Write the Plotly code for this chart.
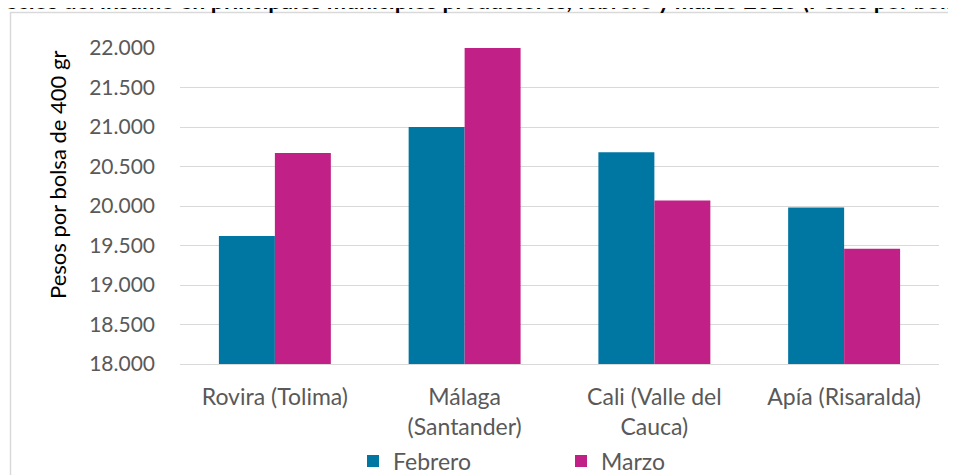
import plotly.graph_objects as go

categories = ["Rovira (Tolima)", "Málaga (Santander)", "Cali (Valle del Cauca)", "Apía (Risaralda)"]
tick_labels = ["Rovira (Tolima)", "Málaga<br>(Santander)", "Cali (Valle del<br>Cauca)", "Apía (Risaralda)"]
febrero = [19620, 21000, 20680, 19980]
marzo = [20670, 22000, 20070, 19460]
y_ticks = [18000, 18500, 19000, 19500, 20000, 20500, 21000, 21500, 22000]

title_text = "Precios del insumo en principales municipios productores, febrero y marzo 2016 (Pesos por bolsa)"
y_title = "Pesos por bolsa de 400 gr"

FONT = "Lato"
GREY = "#595959"

fig = go.Figure()
fig.add_trace(go.Bar(name="Febrero", x=categories, y=febrero, marker_color="#0076A3",
                     marker_line_width=0))
fig.add_trace(go.Bar(name="Marzo", x=categories, y=marzo, marker_color="#C12186",
                     marker_line_width=0))

W, H = 956, 475
OFF = 8  # page offset of the figure (body margin)
# plot area in page pixels
PL, PR, PT, PB = 180, 939, 48, 364
L, R, T, B = PL - OFF, W - (PR - OFF), PT - OFF, H - (PB - OFF)
pw, ph = W - L - R, H - T - B

def px_x(x):
    return (x - OFF - L) / pw

def px_y(y):
    return (H - B - (y - OFF)) / ph

fig.update_layout(
    template="none",
    width=W, height=H,
    margin=dict(l=L, r=R, t=T, b=B, pad=0, autoexpand=False),
    paper_bgcolor="white", plot_bgcolor="white",
    separators=",.",
    font=dict(family=FONT, size=21, color=GREY),
    barmode="group", bargap=0.41, bargroupgap=0,
    showlegend=True,
    legend=dict(orientation="h", x=px_x(353), xanchor="left", y=px_y(461), yanchor="middle",
                entrywidth=163, entrywidthmode="pixels",
                font=dict(family=FONT, size=23, color=GREY), traceorder="normal",
                bgcolor="rgba(0,0,0,0)"),
    xaxis=dict(tickvals=categories, ticktext=tick_labels, showgrid=False, showline=True,
               linecolor="#D9D9D9", linewidth=1, ticks="", ticklabelstandoff=12,
               automargin=False,
               tickfont=dict(family=FONT, size=23, color=GREY)),
    yaxis=dict(range=[18000, 22000], tickvals=y_ticks, tickformat=",d", showgrid=True,
               gridcolor="#D9D9D9", gridwidth=1, zeroline=False, showline=False, ticks="",
               automargin=False,
               ticklabelstandoff=24, tickfont=dict(family=FONT, size=21, color=GREY)),
)

fig.add_annotation(text=y_title, textangle=-90, xref="paper", yref="paper",
                   x=px_x(57), y=px_y(175), xanchor="center", yanchor="middle",
                   showarrow=False, font=dict(family=FONT, size=22, color="black"))

fig.add_annotation(text="<b>" + title_text + "</b>", xref="paper", yref="paper",
                   x=px_x(478), y=px_y(16), xanchor="center", yanchor="bottom",
                   showarrow=False, font=dict(family=FONT, size=23, color="black"))

fig.add_shape(type="rect", xref="paper", yref="paper",
              x0=px_x(10.5), x1=px_x(1100), y0=px_y(700), y1=px_y(12.5),
              line=dict(color="#D9D9D9", width=1.5), fillcolor="rgba(0,0,0,0)", layer="below")

fig.write_html("out.html")
